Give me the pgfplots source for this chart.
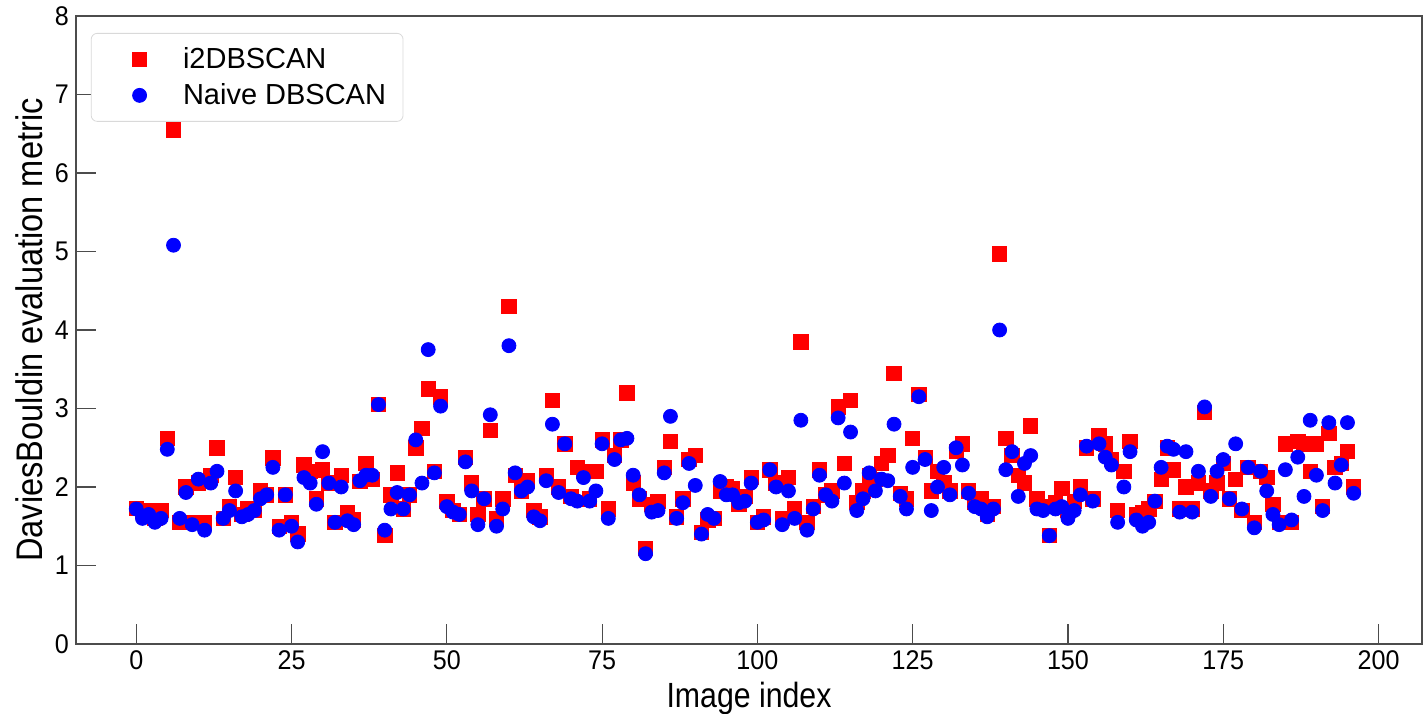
\documentclass[border=0pt]{standalone}
\usepackage{pgfplots}
\pgfplotsset{compat=1.18}
\usepackage{pgfplotstable}
\usepackage{fontspec}
\setmainfont{Liberation Sans}
\newfontfamily\xlabfont[FakeStretch=0.865]{Liberation Sans}
\newfontfamily\ylabfont[FakeStretch=0.88]{Liberation Sans}
\newfontfamily\tickfont[FakeStretch=0.93]{Liberation Sans}

\pgfplotstableread{
i r b
0 1.73 1.72
1 1.70 1.60
2 1.70 1.65
3 1.60 1.55
4 1.70 1.60
5 2.62 2.48
6 6.55 5.08
7 1.55 1.60
8 2.00 1.93
9 1.55 1.52
10 2.05 2.10
11 1.55 1.45
12 2.15 2.05
13 2.50 2.20
14 1.60 1.60
15 1.75 1.70
16 2.12 1.95
17 1.65 1.62
18 1.72 1.65
19 1.70 1.70
20 1.95 1.85
21 1.90 1.90
22 2.37 2.25
23 1.50 1.45
24 1.90 1.90
25 1.55 1.50
26 1.40 1.30
27 2.28 2.12
28 2.20 2.05
29 1.85 1.78
30 2.22 2.45
31 2.05 2.05
32 1.55 1.55
33 2.15 2.00
34 1.67 1.57
35 1.58 1.52
36 2.07 2.08
37 2.30 2.15
38 2.10 2.15
39 3.05 3.05
40 1.38 1.45
41 1.90 1.72
42 2.18 1.93
43 1.72 1.72
44 1.90 1.90
45 2.50 2.60
46 2.75 2.05
47 3.25 3.75
48 2.20 2.18
49 3.15 3.03
50 1.82 1.75
51 1.70 1.68
52 1.65 1.65
53 2.38 2.32
54 2.05 1.95
55 1.65 1.52
56 1.85 1.85
57 2.72 2.92
58 1.60 1.50
59 1.85 1.72
60 4.30 3.80
61 2.15 2.18
62 1.95 1.95
63 2.08 2.00
64 1.70 1.62
65 1.62 1.57
66 2.15 2.08
67 3.10 2.80
68 2.00 1.93
69 2.55 2.55
70 1.88 1.85
71 2.25 1.82
72 2.20 2.12
73 1.85 1.82
74 2.20 1.95
75 2.60 2.55
76 1.72 1.60
77 2.40 2.35
78 2.60 2.60
79 3.20 2.62
80 2.05 2.15
81 1.85 1.90
82 1.22 1.15
83 1.78 1.68
84 1.82 1.70
85 2.25 2.18
86 2.58 2.90
87 1.62 1.60
88 1.85 1.80
89 2.35 2.30
90 2.40 2.02
91 1.42 1.40
92 1.58 1.65
93 1.60 1.60
94 1.95 2.07
95 2.00 1.90
96 1.98 1.90
97 1.78 1.80
98 1.88 1.82
99 2.12 2.05
100 1.55 1.55
101 1.62 1.58
102 2.22 2.22
103 2.05 2.00
104 1.60 1.52
105 2.12 1.95
106 1.72 1.60
107 3.85 2.85
108 1.55 1.45
109 1.75 1.72
110 2.22 2.15
111 1.90 1.90
112 1.95 1.82
113 3.02 2.88
114 2.30 2.05
115 3.10 2.70
116 1.80 1.70
117 1.95 1.85
118 2.15 2.18
119 2.10 1.95
120 2.30 2.10
121 2.40 2.08
122 3.45 2.80
123 1.92 1.88
124 1.85 1.72
125 2.62 2.25
126 3.18 3.15
127 2.38 2.35
128 1.95 1.70
129 2.20 2.00
130 2.05 2.25
131 1.95 1.90
132 2.45 2.50
133 2.55 2.28
134 1.95 1.92
135 1.80 1.75
136 1.85 1.72
137 1.65 1.62
138 1.75 1.72
139 4.97 4.00
140 2.62 2.22
141 2.40 2.45
142 2.15 1.88
143 2.05 2.30
144 2.78 2.40
145 1.85 1.72
146 1.75 1.70
147 1.38 1.38
148 1.80 1.72
149 1.98 1.75
150 1.70 1.60
151 1.82 1.70
152 2.00 1.90
153 2.50 2.52
154 1.85 1.82
155 2.65 2.55
156 2.55 2.38
157 2.35 2.28
158 1.70 1.55
159 2.20 2.00
160 2.58 2.45
161 1.65 1.58
162 1.68 1.50
163 1.72 1.55
164 1.82 1.82
165 2.10 2.25
166 2.50 2.52
167 2.22 2.48
168 1.72 1.68
169 2.00 2.45
170 1.72 1.68
171 2.05 2.20
172 2.95 3.02
173 1.95 1.88
174 2.05 2.20
175 2.30 2.35
176 1.85 1.85
177 2.10 2.55
178 1.70 1.72
179 2.25 2.25
180 1.55 1.48
181 2.20 2.20
182 2.12 1.95
183 1.78 1.65
184 1.55 1.52
185 2.55 2.22
186 1.55 1.58
187 2.58 2.38
188 2.55 1.88
189 2.20 2.85
190 2.55 2.15
191 1.75 1.70
192 2.68 2.82
193 2.25 2.05
194 2.30 2.28
195 2.45 2.82
196 2.00 1.92
}\datatable

\begin{document}
\begin{tikzpicture}
\begin{axis}[name=ax, scale only axis, width=673pt, height=314pt,
  xmin=-9.7, xmax=207, ymin=0, ymax=8,
  xtick={0,25,...,200}, ytick={0,1,...,8},
  tick align=inside, xtick pos=bottom, ytick pos=left,
  major tick length=10pt,
  axis line style={black!70, line width=0.6pt},
  tick style={black!70, line width=0.6pt},
  ticklabel style={font=\tickfont\fontsize{13.5}{13.5}\selectfont},
  /pgf/number format/assume math mode=true,
  xlabel={Image index}, ylabel={DaviesBouldin evaluation metric},
  xlabel style={font=\xlabfont\fontsize{17.5}{17.5}\selectfont, yshift=1pt},
  ylabel style={font=\ylabfont\fontsize{18.5}{18.5}\selectfont, yshift=-1pt},
  legend cell align=left,
  legend style={at={(0.011,0.973)}, anchor=north west, draw=black!15,
    rounded corners=3pt, font=\fontsize{14.5}{17}\selectfont,
    row sep=2pt, inner xsep=6.5pt, inner ysep=5pt},
  legend image code/.code={\path (0pt,0pt) (37pt,0pt);
    \draw[#1, only marks] plot coordinates {(17.5pt,0pt)};},
]
\addplot[only marks, mark=square*, mark size=3.6pt, color=red, mark options={draw=red, fill=red}] table[x=i, y=r] {\datatable};
\addlegendentry{i2DBSCAN}
\addplot[only marks, mark=*, mark size=3.5pt, color=blue, mark options={draw=blue, fill=blue}] table[x=i, y=b] {\datatable};
\addlegendentry{Naive DBSCAN}
\end{axis}
\pgfresetboundingbox
\path[use as bounding box] ([xshift=-38pt,yshift=-35pt]ax.south west) rectangle ([xshift=1pt,yshift=8pt]ax.north east);
\end{tikzpicture}
\end{document}
